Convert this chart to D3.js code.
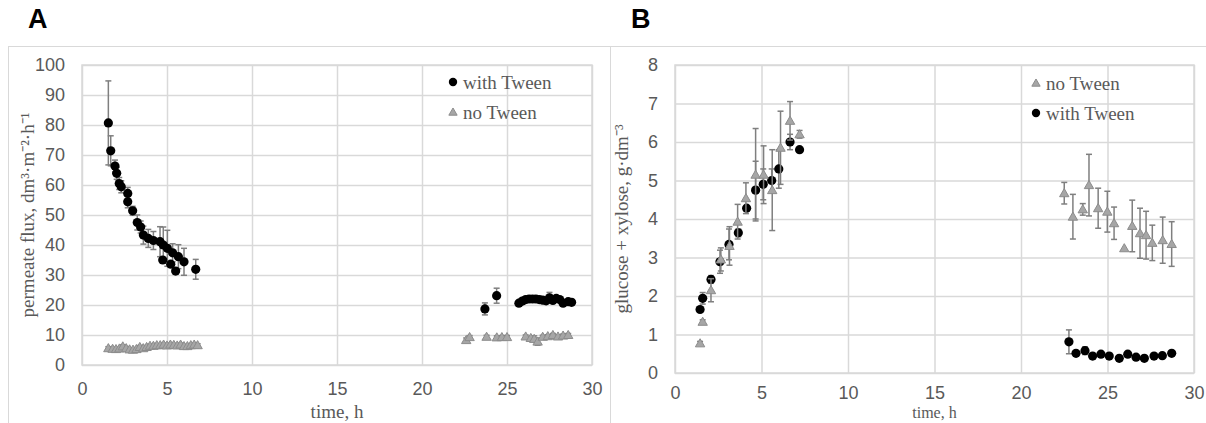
<!DOCTYPE html>
<html>
<head>
<meta charset="utf-8">
<script src="https://cdn.jsdelivr.net/npm/d3@7"></script>
<style>
  body { margin: 0; background: #fff; }
  svg { display: block; font-family: "Liberation Serif", "Times New Roman", serif; }
  .tick text { fill: #595959; font-size: 18px; }
  .panel-label { font-family: "Liberation Sans", Arial, sans-serif; font-weight: bold; font-size: 27px; fill: #000; }
  .title { fill: #595959; font-size: 19px; }
</style>
</head>
<body>
<svg width="1206" height="423"></svg>
<script>
// [time h, value, error]
const fluxWithTween = [
  [1.55, 80.7, 14], [1.69, 71.4, 5], [1.94, 66.3, 2], [2.04, 63.9, 2], [2.19, 60.5, 2],
  [2.31, 59.4, 2], [2.69, 57.2, 2], [2.69, 54.4, 2], [2.98, 51.4, 1.5], [3.25, 47.5, 2.5],
  [3.45, 46, 2], [3.61, 43.3, 3], [3.9, 42.2, 3], [4.2, 41.5, 3], [4.59, 41.1, 5],
  [4.78, 40, 6], [5.02, 38.9, 6], [5.33, 37.4, 3], [5.67, 36.1, 4], [6.0, 34.4, 4.5],
  [4.75, 35, 0], [5.22, 33.6, 0], [5.51, 31.3, 0], [6.69, 31.9, 3.3],
  [23.7, 18.7, 2], [24.39, 23.1, 2.5],
  [25.7, 20.6, 0], [25.9, 21.3, 0], [26.1, 21.8, 0], [26.3, 22, 0], [26.5, 22, 0],
  [26.7, 22, 0], [26.9, 21.8, 0], [27.1, 21.6, 0], [27.3, 21.4, 0], [27.5, 22.4, 1.8],
  [27.7, 21.5, 0], [27.9, 22.2, 0], [28.1, 21.8, 0], [28.3, 20.6, 0], [28.6, 21.1, 0], [28.8, 20.9, 0]
];
const fluxNoTween = [
  [1.55, 5.6, 0.5], [1.8, 5.4, 0.5], [2.0, 5.3, 0.5], [2.2, 5.5, 0.5], [2.4, 6.2, 0.5],
  [2.6, 5.6, 0.5], [2.8, 5.2, 0.5], [3.0, 5.1, 0.5], [3.2, 5.3, 0.5], [3.4, 6.0, 0.5],
  [3.6, 5.6, 0.5], [3.8, 6.0, 0.5], [4.0, 6.4, 0.5], [4.2, 6.4, 0.5], [4.4, 6.6, 0.5],
  [4.6, 6.6, 0.5], [4.8, 6.8, 0.5], [5.0, 6.5, 0.5], [5.2, 6.8, 0.5], [5.4, 6.7, 0.5],
  [5.6, 6.5, 0.5], [5.8, 6.8, 0.5], [6.0, 6.3, 0.5], [6.2, 6.3, 0.5], [6.4, 6.6, 0.5],
  [6.6, 6.8, 0.5], [6.8, 6.6, 0.5],
  [22.6, 8.3, 0.7], [22.8, 9.3, 0.5], [23.8, 9.4, 0.5], [24.4, 9.2, 0.5], [24.7, 9.3, 0.5],
  [25.0, 9.3, 0.5], [26.1, 9.5, 0.5], [26.4, 9.0, 0.5], [26.6, 8.7, 1], [26.8, 7.8, 1.2],
  [27.1, 9.4, 0.5], [27.4, 9.6, 0.5], [27.7, 10.0, 0.5], [28.0, 9.5, 0.5], [28.3, 9.8, 0.5], [28.6, 10.0, 0.5]
];
const sugarNoTween = [
  [1.45, 0.77, 0.05], [1.6, 1.33, 0.05], [2.08, 2.15, 0.3], [2.65, 2.95, 0.3], [3.15, 3.3, 0.5],
  [3.62, 3.93, 0.45], [4.1, 4.54, 0.4], [4.66, 5.15, 1.2], [5.12, 5.15, 0.75], [5.62, 4.75, 1.05],
  [6.1, 5.85, 0.95], [6.65, 6.55, 0.5], [7.2, 6.2, 0.1],
  [22.5, 4.67, 0.28], [23.0, 4.06, 0.58], [23.57, 4.25, 0.15], [23.93, 4.88, 0.8], [24.46, 4.28, 0.52],
  [24.99, 4.19, 0.53], [25.38, 3.89, 0.42], [25.97, 3.24, 0], [26.43, 3.82, 0.67], [26.88, 3.63, 0.65],
  [27.23, 3.58, 0.62], [27.59, 3.38, 0.46], [28.19, 3.45, 0.6], [28.71, 3.35, 0.58]
];
const sugarWithTween = [
  [1.45, 1.65, 0], [1.6, 1.94, 0.15], [2.08, 2.43, 0.1], [2.6, 2.89, 0.3], [3.12, 3.34, 0.4],
  [3.66, 3.64, 0.1], [4.14, 4.28, 0], [4.66, 4.75, 0.75], [5.1, 4.9, 0.4], [5.59, 5.0, 0.3],
  [6.0, 5.3, 0.5], [6.65, 6.0, 0.2], [7.2, 5.8, 0],
  [22.77, 0.81, 0.31], [23.18, 0.51, 0], [23.7, 0.58, 0.1], [24.14, 0.44, 0], [24.62, 0.49, 0],
  [25.1, 0.44, 0], [25.68, 0.38, 0.05], [26.17, 0.49, 0], [26.65, 0.41, 0], [27.13, 0.38, 0],
  [27.69, 0.44, 0.05], [28.17, 0.45, 0], [28.71, 0.51, 0]
];
const timeTicks = [0, 5, 10, 15, 20, 25, 30];
const fluxTicks = [0, 10, 20, 30, 40, 50, 60, 70, 80, 90, 100];
const sugarTicks = [0, 1, 2, 3, 4, 5, 6, 7, 8];

const svg = d3.select('svg');
const gridColor = '#d9d9d9';
const errColor = '#7f7f7f';

// outer frames
svg.append('rect').attr('x', 8.5).attr('y', 46.5).attr('width', 602).attr('height', 400)
  .attr('fill', 'none').attr('stroke', gridColor);
svg.append('rect').attr('x', 610.5).attr('y', 46.5).attr('width', 620).attr('height', 400)
  .attr('fill', 'none').attr('stroke', gridColor);

function panel(cfg) {
  const x = d3.scaleLinear().domain([0, 30]).range(cfg.xr);
  const y = d3.scaleLinear().domain(cfg.ydom).range(cfg.yr);
  const g = svg.append('g');

  // gridlines
  g.append('g').attr('transform', `translate(0,${cfg.yr[0]})`)
    .call(d3.axisBottom(x).tickValues(timeTicks).tickSize(-(cfg.yr[0] - cfg.yr[1])).tickPadding(cfg.xpad))
    .call(a => a.select('.domain').remove())
    .call(a => a.selectAll('line').attr('stroke', gridColor).attr('stroke-width', 1.5));
  g.append('g').attr('transform', `translate(${cfg.xr[0]},0)`)
    .call(d3.axisLeft(y).tickValues(cfg.yticks).tickSize(-(cfg.xr[1] - cfg.xr[0])).tickPadding(17))
    .call(a => a.select('.domain').remove())
    .call(a => a.selectAll('line').attr('stroke', gridColor).attr('stroke-width', 1.5));
  g.selectAll('.tick text').attr('font-family', null).attr('font-size', null);
  g.append('rect').attr('x', cfg.xr[0]).attr('y', cfg.yr[1])
    .attr('width', cfg.xr[1] - cfg.xr[0]).attr('height', cfg.yr[0] - cfg.yr[1])
    .attr('fill', 'none').attr('stroke', gridColor).attr('stroke-width', 1.5);

  // series in drawing order
  cfg.series.forEach(s => {
    const withErr = s.data.filter(d => d[2] > 0);
    const eb = g.append('g').attr('stroke', errColor).attr('stroke-width', 1.5);
    eb.selectAll('.v').data(withErr).join('line')
      .attr('x1', d => x(d[0])).attr('x2', d => x(d[0]))
      .attr('y1', d => y(d[1] - d[2])).attr('y2', d => y(d[1] + d[2]));
    eb.selectAll('.t').data(withErr.flatMap(d => [[d[0], d[1] + d[2]], [d[0], d[1] - d[2]]])).join('line')
      .attr('x1', d => x(d[0]) - 3).attr('x2', d => x(d[0]) + 3)
      .attr('y1', d => y(d[1])).attr('y2', d => y(d[1]));
    drawMarks(g, s.kind, s.data.map(d => [x(d[0]), y(d[1])]));
  });

  // legend
  cfg.legend.forEach((l, i) => {
    const ly = cfg.legXY[1] + i * 30;
    drawMarks(svg, l.kind, [[cfg.legXY[0], ly]], true);
    svg.append('text').attr('class', 'title').attr('x', cfg.legXY[0] + 10).attr('y', ly)
      .attr('dy', '0.35em').text(l.label);
  });

  // axis titles
  svg.append('text').attr('class', 'title').attr('text-anchor', 'middle')
    .attr('x', (cfg.xr[0] + cfg.xr[1]) / 2).attr('y', cfg.xtitleY)
    .style('font-size', cfg.xtitleSize + 'px').text('time, h');
  svg.append('text').attr('class', 'title').attr('text-anchor', 'middle')
    .attr('transform', `translate(${cfg.ytitleX},${(cfg.yr[0] + cfg.yr[1]) / 2}) rotate(-90)`)
    .text(cfg.ytitle);

  svg.append('text').attr('class', 'panel-label').attr('x', cfg.labelX).attr('y', 28).text(cfg.label);
}

function drawMarks(g, kind, pts, small) {
  if (kind === 'dot') {
    g.append('g').selectAll('circle').data(pts).join('circle')
      .attr('cx', d => d[0]).attr('cy', d => d[1]).attr('r', small ? 4.2 : 4.6).attr('fill', '#000');
  } else {
    g.append('g').selectAll('path').data(pts).join('path')
      .attr('d', d3.symbol(d3.symbolTriangle, small ? 30 : 38))
      .attr('transform', d => `translate(${d[0]},${d[1] + 0.8})`)
      .attr('fill', '#a6a6a6').attr('stroke', '#8c8c8c').attr('stroke-width', 1);
  }
}

panel({
  label: 'A', labelX: 28, xpad: 17, xtitleY: 418, xtitleSize: 19,
  xr: [82, 592], ydom: [0, 100], yr: [365, 65], yticks: fluxTicks,
  ytitle: 'permeate flux, dm³·m⁻²·h⁻¹', ytitleX: 34,
  series: [{ kind: 'tri', data: fluxNoTween }, { kind: 'dot', data: fluxWithTween }],
  legend: [{ kind: 'dot', label: 'with Tween' }, { kind: 'tri', label: 'no Tween' }],
  legXY: [453, 82]
});
panel({
  label: 'B', labelX: 631, xpad: 13, xtitleY: 418, xtitleSize: 16,
  xr: [675, 1194], ydom: [0, 8], yr: [373, 65], yticks: sugarTicks,
  ytitle: 'glucose + xylose, g·dm⁻³', ytitleX: 628,
  series: [{ kind: 'dot', data: sugarWithTween }, { kind: 'tri', data: sugarNoTween }],
  legend: [{ kind: 'tri', label: 'no Tween' }, { kind: 'dot', label: 'with Tween' }],
  legXY: [1036, 83]
});
</script>
</body>
</html>
